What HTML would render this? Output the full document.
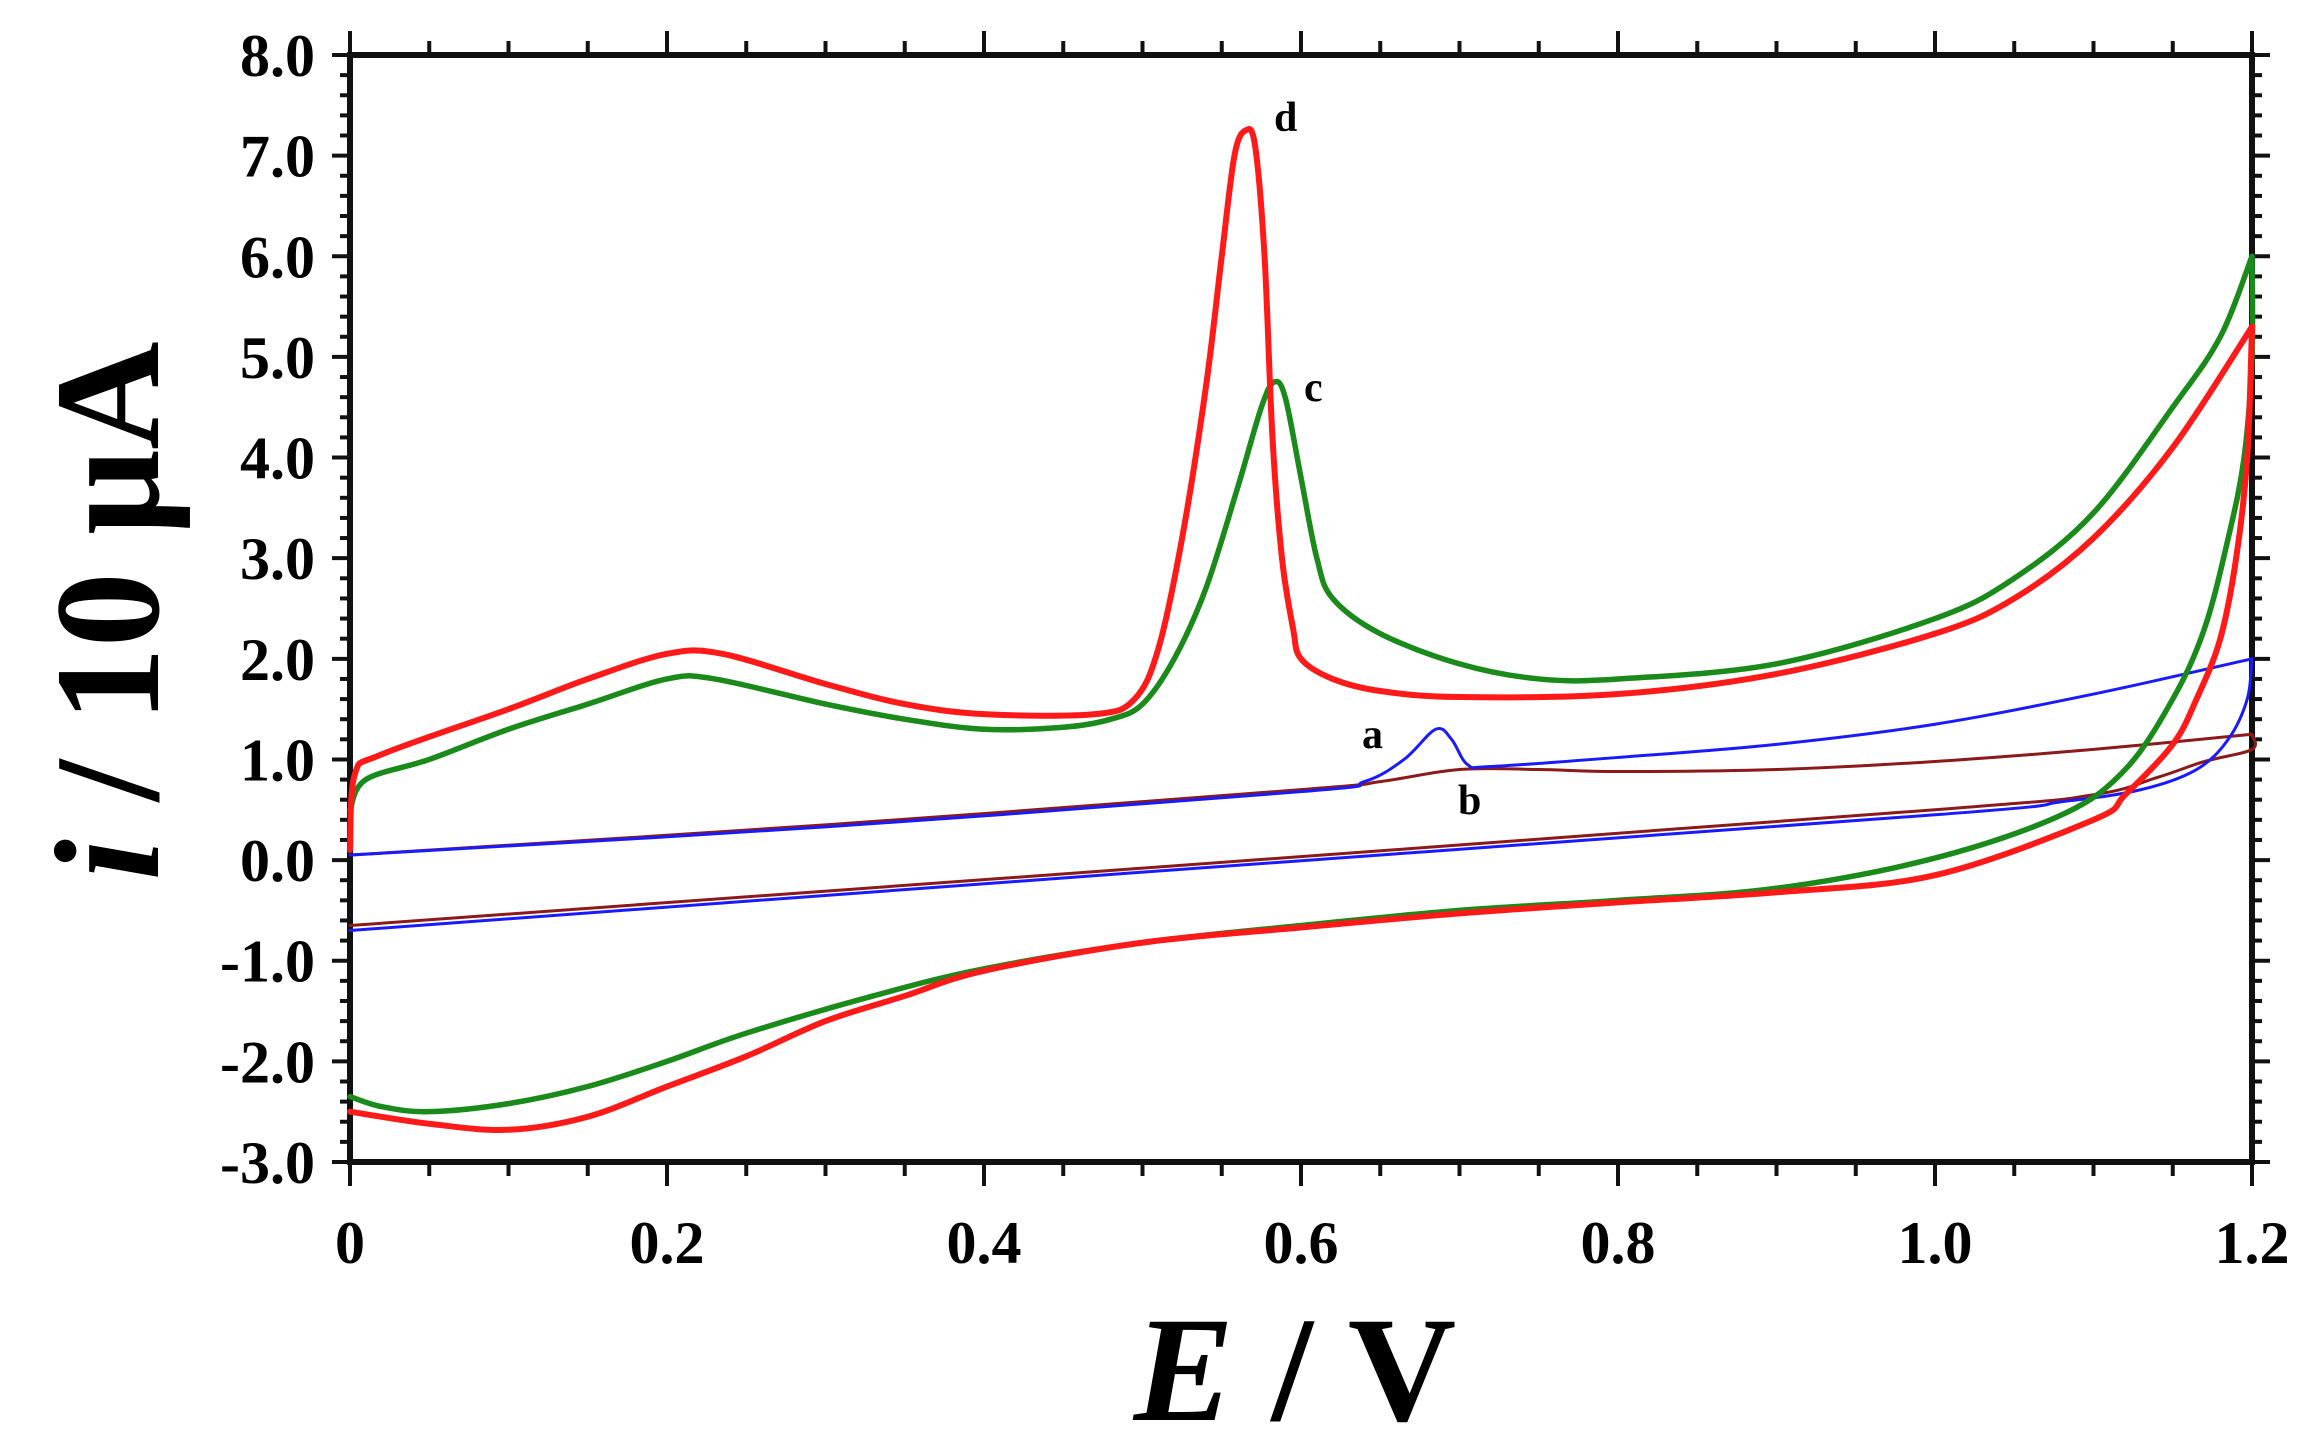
<!DOCTYPE html>
<html><head><meta charset="utf-8"><style>
html,body{margin:0;padding:0;background:#fff;}
svg{display:block;}
text{font-family:"Liberation Serif",serif;font-weight:bold;fill:#000;}
</style></head><body>
<svg id="s" width="2308" height="1439" viewBox="0 0 2308 1439" xmlns="http://www.w3.org/2000/svg">
<g id="ticks" stroke="#111" stroke-width="4"></g>
<rect x="350" y="55" width="1902" height="1107" fill="none" stroke="#111" stroke-width="6"/>
<g font-size="60" text-anchor="end" id="ylab"></g>
<g font-size="60" text-anchor="middle" id="xlab"></g>
<g id="curves" fill="none" stroke-linejoin="round" stroke-linecap="round"></g>
<g font-size="42">
<text x="1274" y="131">d</text>
<text x="1304" y="401">c</text>
<text x="1362" y="748">a</text>
<text x="1458" y="814">b</text>
</g>
<text x="1295" y="1420" font-size="150" text-anchor="middle"><tspan font-style="italic">E</tspan> / V</text>
<text transform="translate(158,611) rotate(-90)" font-size="150" text-anchor="middle"><tspan font-style="italic">i</tspan> / 10 μA</text>
</svg>
<script>
var ns="http://www.w3.org/2000/svg",t=document.getElementById("ticks");
var X0=350,W=1902,Y0=55,H=1107;
function px(e){return X0+W*e/1.2;} function py(v){return Y0+(8-v)*H/11;}
function L(x1,y1,x2,y2){var l=document.createElementNS(ns,"line");l.setAttribute("x1",x1);l.setAttribute("y1",y1);l.setAttribute("x2",x2);l.setAttribute("y2",y2);t.appendChild(l);}
for(var i=0;i<=55;i++){var y=Y0+i*H/55,maj=i%5==0;L(X0,y,X0-(maj?18:10),y);L(X0+W,y,X0+W+(maj?18:10),y);}
for(var i=0;i<=24;i++){var x=X0+i*W/24,maj=i%4==0;L(x,Y0+H,x,Y0+H+(maj?24:14));L(x,Y0,x,Y0-(maj?24:14));}
var yl=document.getElementById("ylab");
for(var v=8;v>=-3;v--){var tx=document.createElementNS(ns,"text");tx.setAttribute("x",315);tx.setAttribute("y",py(v)+21);tx.textContent=v.toFixed(1);yl.appendChild(tx);}
var xl=document.getElementById("xlab"),lab=["0","0.2","0.4","0.6","0.8","1.0","1.2"];
for(var i=0;i<7;i++){var tx=document.createElementNS(ns,"text");tx.setAttribute("x",X0+i*W/6);tx.setAttribute("y",1263);tx.textContent=lab[i];xl.appendChild(tx);}
function curve(pts,col,w){
 var p=[];for(var i=0;i<pts.length;i+=2)p.push([px(pts[i]),py(pts[i+1])]);
 var d="M"+p[0][0]+","+p[0][1];
 for(var i=0;i<p.length-1;i++){var a=p[Math.max(i-1,0)],b=p[i],c=p[i+1],e=p[Math.min(i+2,p.length-1)];
  d+=" C"+(b[0]+(c[0]-a[0])/6)+","+(b[1]+(c[1]-a[1])/6)+" "+(c[0]-(e[0]-b[0])/6)+","+(c[1]-(e[1]-b[1])/6)+" "+c[0]+","+c[1];}
 var pa=document.createElementNS(ns,"path");pa.setAttribute("d",d);pa.setAttribute("stroke",col);pa.setAttribute("stroke-width",w);document.getElementById("curves").appendChild(pa);}
var B="#8b1a1a",U="#1a1aff",G="#1a8a1a",R="#ff1a1a";
curve([0,0.05,0.3,0.35,0.6,0.7,0.65,0.78,0.7,0.9,0.75,0.9,0.8,0.88,0.9,0.9,1.0,0.98,1.1,1.1,1.2,1.25],B,3);
curve([1.2,1.25,1.2,1.1,1.17,0.98,1.14,0.82,1.1,0.65,1.0,0.5,0.5,-0.08,0,-0.65],B,3);
curve([0,0.05,0.3,0.33,0.6,0.68,0.64,0.78,0.665,1.0,0.685,1.3,0.695,1.2,0.705,0.95,0.72,0.93,0.8,1.02,0.9,1.15,1.0,1.35,1.1,1.65,1.2,2.0],U,3);
curve([1.2,2.0,1.197,1.6,1.185,1.2,1.165,0.9,1.13,0.7,1.08,0.58,1.0,0.45,0.5,-0.12,0,-0.7],U,3);
curve([0,0.5,0.01,0.8,0.05,1.0,0.1,1.3,0.15,1.55,0.2,1.8,0.23,1.8,0.3,1.55,0.35,1.4,0.4,1.3,0.45,1.32,0.48,1.4,0.5,1.55,0.52,2.0,0.54,2.7,0.56,3.7,0.575,4.5,0.583,4.75,0.59,4.6,0.6,3.8,0.61,3.0,0.62,2.6,0.65,2.25,0.7,1.95,0.75,1.8,0.8,1.8,0.9,1.95,1.0,2.4,1.05,2.8,1.1,3.45,1.15,4.5,1.18,5.2,1.2,6.0],G,5.5);
curve([1.2,6.0,1.2,5.0,1.195,4.0,1.185,3.2,1.17,2.3,1.15,1.6,1.12,0.9,1.08,0.45,1.0,0.02,0.9,-0.28,0.8,-0.4,0.7,-0.5,0.6,-0.65,0.5,-0.82,0.4,-1.08,0.33,-1.35,0.25,-1.72,0.2,-2.0,0.15,-2.25,0.1,-2.42,0.05,-2.5,0.02,-2.45,0,-2.35],G,5.5);
curve([0,0.1,0.003,0.85,0.02,1.05,0.1,1.5,0.15,1.8,0.2,2.05,0.235,2.05,0.3,1.75,0.35,1.55,0.4,1.45,0.47,1.45,0.495,1.6,0.51,2.1,0.525,3.2,0.54,4.7,0.55,6.0,0.558,7.0,0.565,7.25,0.571,7.1,0.577,6.0,0.582,4.2,0.588,3.0,0.595,2.3,0.6,2.0,0.62,1.8,0.65,1.68,0.7,1.62,0.8,1.65,0.9,1.85,1.0,2.25,1.05,2.6,1.1,3.2,1.15,4.1,1.2,5.3],R,6);
curve([1.2,5.3,1.197,4.0,1.19,3.0,1.18,2.2,1.165,1.6,1.15,1.15,1.12,0.65,1.1,0.4,1.0,-0.15,0.9,-0.32,0.8,-0.42,0.7,-0.53,0.6,-0.67,0.5,-0.82,0.4,-1.1,0.35,-1.35,0.3,-1.6,0.25,-1.95,0.2,-2.25,0.15,-2.55,0.1,-2.68,0.05,-2.62,0,-2.5],R,6);
</script>
</body></html>
